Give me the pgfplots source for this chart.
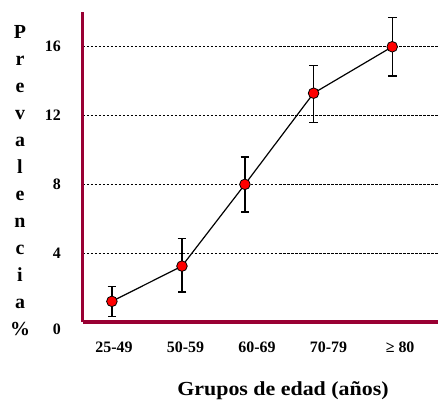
\documentclass[border=0pt]{standalone}
\usepackage{fontspec}
\setmainfont{Liberation Serif}
\usepackage{pgfplots}
\usepackage{pgfplotstable}
\pgfplotsset{compat=1.18}
\definecolor{axiscol}{HTML}{990033}
\pgfplotstableread{
x y ep em
-0.03 1.2 0.85 0.9
0.95 3.25 1.6 1.5
1.83 8.0 1.6 1.6
2.79 13.3 1.6 1.7
3.89 16.0 1.7 1.7
}\prev
\begin{document}
\begin{tikzpicture}
\begin{axis}[
  scale only axis, width=355bp, height=310bp,
  xmin=-0.434, xmax=4.53, ymin=0, ymax=18.02,
  axis x line*=bottom, axis y line*=left,
  axis line style={color=axiscol, line width=3bp, -},
  xtick={0,1,2,3,4},
  xticklabels={25-49,50-59,60-69,70-79,≥ 80},
  ytick={4,8,12,16},
  extra y ticks={0},
  extra y tick style={grid=none, yticklabel style={yshift=-7bp}},
  major tick length=0,
  /pgf/number format/assume math mode=true,
  ticklabel style={font=\bfseries\fontsize{16}{16}\selectfont},
  yticklabel style={anchor=east, inner sep=0pt, xshift=-22bp},
  xticklabel style={anchor=base, inner sep=0pt, yshift=-30bp},
  ymajorgrids,
  grid style={black, line width=0.6bp, dash pattern=on 2.5bp off 1.5bp},
  clip=false,
]
\addplot[black, line width=1.2bp, mark=*, mark size=5.3bp,
  mark options={fill=red, draw=black, line width=0.8bp},
  error bars/.cd, y dir=both, y explicit,
  error bar style={line width=1.3bp, black},
  error mark options={rotate=90, mark size=4.3bp, line width=1.3bp, black}]
  table[x=x, y=y, y error plus=ep, y error minus=em] {\prev};
\end{axis}
\node[anchor=base, font=\bfseries\fontsize{20}{22}\selectfont] at (200bp,-73bp) {\scalebox{1.1}[1]{Grupos de edad (años)}};
\node[align=center, font=\bfseries\fontsize{20}{27.1}\selectfont] at (-63bp,141bp) {P\\r\\e\\v\\a\\l\\e\\n\\c\\i\\a\\\%};
\pgfresetboundingbox
\path[use as bounding box] (-83bp,-79bp) rectangle (356bp,322bp);
\end{tikzpicture}
\end{document}
